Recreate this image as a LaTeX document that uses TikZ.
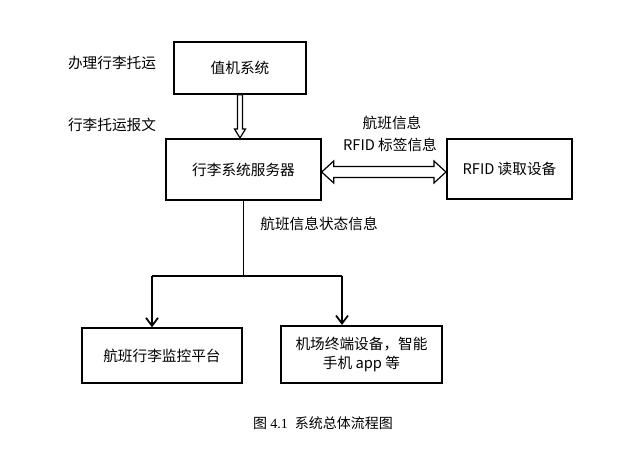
\documentclass[tikz,border=0pt]{standalone}
\usepackage{fontspec}
\setmainfont{Noto Sans CJK SC}
\newfontfamily\capfont{Liberation Serif}
\usetikzlibrary{calc, arrows.meta}

\begin{document}
\begin{tikzpicture}[x=0.75pt, y=-0.75pt, font=\fontsize{11pt}{14pt}\selectfont,
  >={Straight Barb[length=6pt, width=9pt]},
  box/.style={draw, line width=1.3pt, align=center, inner sep=2pt},
  link/.style={line width=1.3pt},
  hollow/.style={draw, line width=0.9pt, fill=white, line join=miter}]

% pixel grid: 622 x 457, y downwards
\useasboundingbox (0,0) rectangle (622,457);

%% ── boxes ────────────────────────────────────────────────────────
\node[box, minimum width=99pt, minimum height=39pt] (check) at (240,68) {值机系统};
\node[box, minimum width=116pt, minimum height=46pt] (server) at (243.5,169.5) {行李系统服务器};
\node[box, minimum width=94pt, minimum height=45pt] (rfid) at (509.5,169) {RFID 读取设备};
\node[box, minimum width=120pt, minimum height=41pt] (monitor) at (162,355.5) {航班行李监控平台};
\node[box, minimum width=121pt, minimum height=43pt] (terminal) at (361.5,354.5) {机场终端设备，智能\\手机 app 等};

%% ── hollow arrow: check-in -> server ─────────────────────────────
\coordinate (dn) at (check.south |- server.north);
\draw[hollow] ($(check.south)+(-2.5,0)$) -- ($(dn)+(-2.5,-9)$) -- ++(-3,0) -- (dn)
  -- ($(dn)+(5.5,-9)$) -- ++(-3,0) -- ($(check.south)+(2.5,0)$) -- cycle;

%% ── hollow double arrow: server <-> RFID reader ──────────────────
\coordinate (dl) at ($(server.east)+(0,2.5)$);
\coordinate (dr) at (rfid.west |- dl);
\draw[hollow] (dl) -- ($(dl)+(12,-11)$) -- ++(0,5.5) -- ($(dr)+(-12,-5.5)$) -- ++(0,-5.5)
  -- (dr) -- ($(dr)+(-12,11)$) -- ++(0,-5.5) -- ($(dl)+(12,5.5)$) -- ++(0,5.5) -- cycle;

%% ── tree to the two clients ──────────────────────────────────────
\coordinate (split) at ($(server.south)+(0,76)$);
\coordinate (jl) at (152,276);
\coordinate (jr) at (342,276);
\draw[link] (server.south) -- (split);
\draw[link] (jl) -- (jr);
\draw[link, ->] (jl) -- (jl |- monitor.north);
\draw[link, ->] (jr) -- (jr |- terminal.north);

%% ── labels ───────────────────────────────────────────────────────
\node (lcheckin) at (112,63) {办理行李托运};
\node (lmsg) at (112,125) {行李托运报文};
\node (lflight) at (392,123) {航班信息};
\node (ltag) at (390,145) {RFID 标签信息};
\node (lstate) at (319,224) {航班信息状态信息};

%% ── caption ──────────────────────────────────────────────────────
\node[font=\fontsize{10.5pt}{12pt}\selectfont] (caption) at (323,423) {图 {\capfont 4.1}\enspace 系统总体流程图};

\end{tikzpicture}
\end{document}
